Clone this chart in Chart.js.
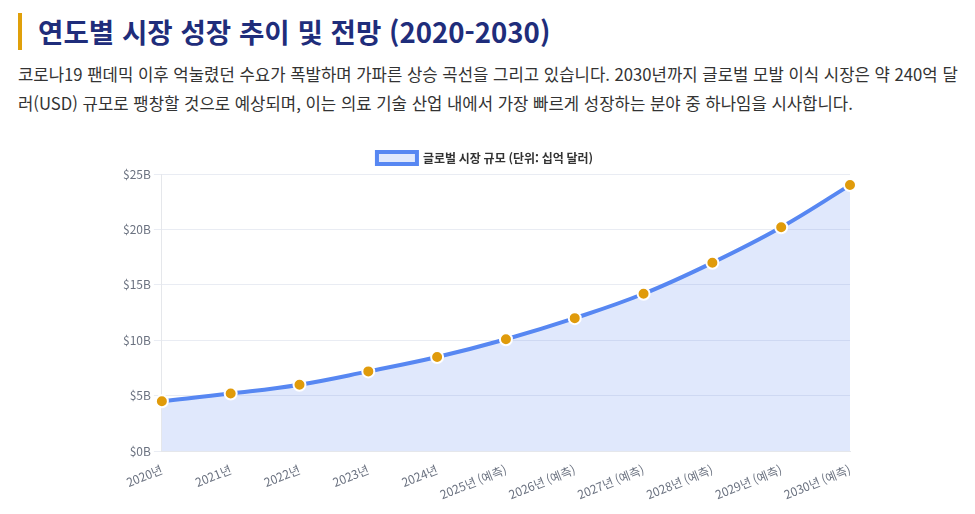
<!DOCTYPE html>
<html lang="ko">
<head>
<meta charset="utf-8">
<script src="https://cdn.jsdelivr.net/npm/chart.js@4.4.1/dist/chart.umd.min.js"></script>
<style>
  html, body { margin: 0; padding: 0; background: #fff; }
  body { width: 975px; height: 514px; position: relative; overflow: hidden; font-family: "Noto Sans CJK KR", "Noto Sans", sans-serif; }
  h2 { position: absolute; left: 18px; top: 13px; margin: 0; padding-left: 16px; border-left: 4px solid #e0a00a;
       font-size: 27.6px; line-height: 37px; font-weight: 700; color: #1f2d7b; white-space: nowrap; }
  p { position: absolute; left: 18px; top: 60px; margin: 0; font-size: 16.7px; line-height: 29px; color: #333; white-space: nowrap; }
  #wrap { position: absolute; left: 108px; top: 142px; width: 764px; height: 372px; }
</style>
</head>
<body>
<h2>연도별 시장 성장 추이 및 전망 (2020-2030)</h2>
<p>코로나19 팬데믹 이후 억눌렸던 수요가 폭발하며 가파른 상승 곡선을 그리고 있습니다. 2030년까지 글로벌 모발 이식 시장은 약 240억 달<br>러(USD) 규모로 팽창할 것으로 예상되며, 이는 의료 기술 산업 내에서 가장 빠르게 성장하는 분야 중 하나임을 시사합니다.</p>
<div id="wrap"><canvas id="c"></canvas></div>
<script>
const years = ["2020년","2021년","2022년","2023년","2024년","2025년 (예측)","2026년 (예측)","2027년 (예측)","2028년 (예측)","2029년 (예측)","2030년 (예측)"];
const marketSize = [4.5, 5.2, 6.0, 7.2, 8.5, 10.1, 12.0, 14.2, 17.0, 20.2, 24.0];
const seriesLabel = "글로벌 시장 규모 (단위: 십억 달러)";

new Chart(document.getElementById('c'), {
  type: 'line',
  data: {
    labels: years,
    datasets: [{
      label: seriesLabel,
      data: marketSize,
      borderColor: '#5787f2',
      backgroundColor: 'rgba(88,132,238,0.19)',
      borderWidth: 4,
      fill: true,
      tension: 0.4,
      pointRadius: 6,
      pointHoverRadius: 7,
      pointBackgroundColor: '#e09b0b',
      pointBorderColor: '#ffffff',
      pointBorderWidth: 2
    }]
  },
  options: {
    responsive: true,
    maintainAspectRatio: false,
    animation: false,
    layout: { padding: { top: 0, right: 22, bottom: 9, left: 12 } },
    plugins: {
      legend: {
        display: true,
        labels: {
          font: { family: '"Noto Sans CJK KR", sans-serif', size: 12, weight: '700' },
          color: '#333',
          boxWidth: 40,
          boxHeight: 12
        }
      },
      tooltip: { enabled: false }
    },
    scales: {
      x: {
        grid: { display: false },
        border: { display: true, color: '#e5e7eb' },
        ticks: {
          color: '#6b7280',
          font: { family: '"Noto Sans CJK KR", sans-serif', size: 12 },
          maxRotation: 22,
          minRotation: 22
        }
      },
      y: {
        min: 0,
        max: 25,
        grid: { color: '#e9ecf3' },
        border: { display: true, color: '#e5e7eb' },
        ticks: {
          stepSize: 5,
          color: '#6b7280',
          font: { family: '"Noto Sans CJK KR", sans-serif', size: 12 },
          callback: v => '$' + v + 'B'
        }
      }
    }
  }
});
</script>
</body>
</html>
